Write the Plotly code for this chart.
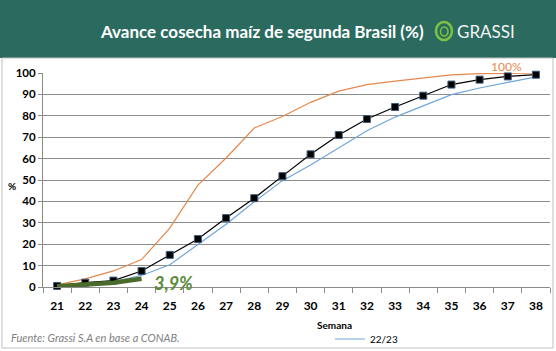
import plotly.graph_objects as go

weeks = list(range(21, 39))
tick_labels = [str(w) for w in weeks]
y_ticks = list(range(0, 101, 10))

# series values (% harvested)
max_series = [1.0, 3.8, 7.5, 12.8, 27.5, 47.6, 60.3, 74.3, 79.7, 86.3, 91.5, 94.6, 96.2, 97.7, 99.1, 99.7, 100.0, 100.0]
avg_series = [0.5, 2.0, 3.0, 7.5, 15.0, 22.4, 32.2, 41.5, 51.8, 62.0, 71.0, 78.5, 84.1, 89.4, 94.6, 96.9, 98.4, 99.2]
s2223 = [0.3, 1.0, 2.4, 5.4, 10.4, 20.0, 29.3, 39.8, 49.7, 57.0, 64.9, 73.0, 79.4, 84.7, 89.9, 93.0, 95.7, 98.2]
cur_weeks = [21, 22, 23, 24]
current = [0.3, 1.0, 2.0, 3.9]

title = "Avance cosecha maíz de segunda Brasil (%)"
source = "Fuente: Grassi S.A en base a CONAB."

FONT = "Lato"
W, H = 556, 351
L, R, T, B = 43, 6, 73, 64
PW, PH = W - L - R, H - T - B

def px(x):
    return (x - L) / PW

def py(y):
    return (H - B - y) / PH

fig = go.Figure()
fig.add_trace(go.Scatter(x=weeks, y=max_series, mode="lines", name="Máx",
                         line=dict(color="#E3894D", width=1.2), showlegend=False))
fig.add_trace(go.Scatter(x=weeks, y=s2223, mode="lines", name="22/23",
                         line=dict(color="#6FA6DB", width=1.2), showlegend=True))
fig.add_trace(go.Scatter(x=weeks, y=avg_series, mode="lines+markers", name="Prom",
                         line=dict(color="#000000", width=1.2),
                         marker=dict(symbol="square", size=7, color="#000000",
                                     line=dict(color="#3F5B7A", width=1)),
                         showlegend=False))
fig.add_trace(go.Scatter(x=cur_weeks, y=current, mode="lines", name="23/24",
                         line=dict(color="#4A6B2A", width=4.5), showlegend=False))

shapes = [
    # banner
    dict(type="rect", xref="paper", yref="paper", x0=px(0), x1=px(W), y0=py(58), y1=py(0),
         fillcolor="#2B6B5F", line=dict(width=0), layer="below"),
    # outer border
    dict(type="rect", xref="paper", yref="paper", x0=px(2), x1=px(553), y0=py(348), y1=py(58),
         fillcolor="rgba(0,0,0,0)", line=dict(color="#BFBFBF", width=1), layer="below"),
    # logo leaf
    dict(type="circle", xref="paper", yref="paper", x0=px(436), x1=px(452), y0=py(40), y1=py(22),
         fillcolor="rgba(0,0,0,0)", line=dict(color="#7DC242", width=2.5)),
    dict(type="circle", xref="paper", yref="paper", x0=px(440.5), x1=px(448), y0=py(36), y1=py(27),
         fillcolor="rgba(0,0,0,0)", line=dict(color="#7DC242", width=1.5)),
]

annotations = [
    dict(text="<b>" + title + "</b>", xref="paper", yref="paper", x=px(262), y=py(31),
         xanchor="center", yanchor="middle", showarrow=False,
         font=dict(family=FONT, size=17, color="#FFFFFF")),
    dict(text="GRASSI", xref="paper", yref="paper", x=px(455), y=py(31),
         xanchor="left", yanchor="middle", showarrow=False,
         font=dict(family=FONT, size=17, color="#F2F2F2")),
    dict(text="100%", xref="paper", yref="paper", x=px(506), y=py(66),
         xanchor="center", yanchor="middle", showarrow=False,
         font=dict(family=FONT, size=12, color="#E3894D")),
    dict(text="<b><i>3,9%</i></b>", xref="paper", yref="paper", x=px(152), y=py(283),
         xanchor="left", yanchor="middle", showarrow=False,
         font=dict(family=FONT, size=18, color="#5A8A3A")),
    dict(text="<b>%</b>", xref="paper", yref="paper", x=px(12), y=py(186),
         xanchor="center", yanchor="middle", showarrow=False,
         font=dict(family=FONT, size=10, color="#000000")),
    dict(text="<b>Semana</b>", xref="paper", yref="paper", x=px(334), y=py(325),
         xanchor="center", yanchor="middle", showarrow=False,
         font=dict(family=FONT, size=10, color="#000000")),
    dict(text="<i>" + source + "</i>", xref="paper", yref="paper", x=px(9), y=py(337),
         xanchor="left", yanchor="middle", showarrow=False,
         font=dict(family=FONT, size=11, color="#7F7F7F")),
]

fig.update_layout(
    width=W, height=H,
    margin=dict(l=L, r=R, t=T, b=B, autoexpand=False),
    paper_bgcolor="#FFFFFF", plot_bgcolor="#FFFFFF",
    font=dict(family=FONT, size=11, color="#000000"),
    shapes=shapes, annotations=annotations,
    legend=dict(orientation="h", x=px(330), y=py(339), xanchor="left", yanchor="middle",
                font=dict(family=FONT, size=10, color="#000000"), bgcolor="rgba(0,0,0,0)",
                itemwidth=30),
    xaxis=dict(range=[20.5, 38.5], tickvals=weeks, ticktext=["<b>%s</b>" % t for t in tick_labels],
               ticks="", showgrid=False, zeroline=False, showline=True, linecolor="#8C8C8C",
               linewidth=1, tickfont=dict(family=FONT, size=12, color="#000000"),
               minor=dict(ticks="outside", tick0=20.5, dtick=1, ticklen=5, tickcolor="#8C8C8C",
                          showgrid=False),
               ticklabelstandoff=8),
    yaxis=dict(range=[0, 100], tickvals=y_ticks, ticktext=["<b>%d</b>" % v for v in y_ticks],
               ticks="outside", ticklen=4, tickcolor="#8C8C8C",
               showgrid=True, gridcolor="#8C8C8C", gridwidth=1, zeroline=False,
               showline=True, linecolor="#8C8C8C", linewidth=1,
               tickfont=dict(family=FONT, size=11.5, color="#000000")),
)
fig.update_traces(cliponaxis=False)

fig.write_html("out.html")
